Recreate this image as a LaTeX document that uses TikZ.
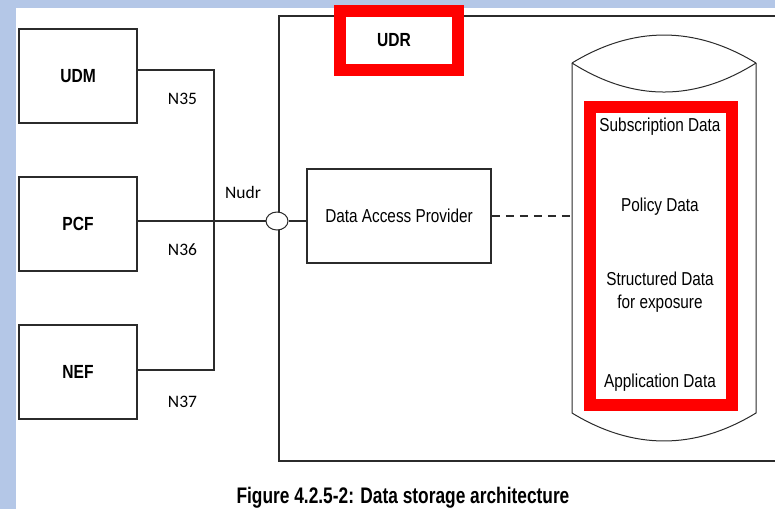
\documentclass[tikz,border=0pt]{standalone}
\usepackage{fontspec}
\setmainfont{Liberation Sans}
\newfontfamily\nar[FakeStretch=0.82]{Liberation Sans}
\newfontfamily\capfont[FakeStretch=0.77]{Liberation Sans}
\newfontfamily\ifont{Carlito}
\usetikzlibrary{shapes.geometric}
\definecolor{bgblue}{HTML}{B4C7E7}
\definecolor{udrred}{HTML}{FF0000}
\definecolor{ln}{HTML}{2B2B2B}
\begin{document}
\begin{tikzpicture}[x=1pt,y=-1pt,
  nfbox/.style={draw=ln, line width=1.5pt, minimum width=118pt, minimum height=94pt, inner sep=0pt, font=\nar\bfseries\fontsize{19}{22}\selectfont},
  lbl/.style={anchor=base, inner sep=0pt, font=\nar\fontsize{18.7}{22}\selectfont},
  ilbl/.style={anchor=base, inner sep=0pt, font=\ifont\fontsize{17.5}{20}\selectfont},
  wire/.style={draw=ln, line width=1.6pt},
  thin/.style={draw=ln, line width=1pt},
  redframe/.style={draw=udrred, line width=12pt, fill=white}]
\useasboundingbox (0,0) rectangle (775,509);
\clip (0,0) rectangle (775,509);
% slide background
\fill[bgblue] (0,0) rectangle (775,509);
\fill[white] (16,8) rectangle (775,509);
% UDR enclosure
\draw[draw=ln, line width=1.6pt] (279,16) rectangle (800,461);
% UDR label frame
\path[redframe] (340,11) rectangle (458,70);
\node[inner sep=0pt, font=\nar\bfseries\fontsize{19}{22}\selectfont] (udr) at (394,40) {UDR};
% NF boxes
\node[nfbox] (udm) at (78,76) {UDM};
\node[nfbox] (pcf) at (78,224) {PCF};
\node[nfbox] (nef) at (78,372) {NEF};
% Data access provider
\node[draw=ln, line width=1.5pt, minimum width=184pt, minimum height=94pt, inner sep=0pt, font=\nar\fontsize{18.7}{22}\selectfont] (dap) at (399,216) {Data Access Provider};
% wires
\coordinate (busT) at (214,70);
\coordinate (busB) at (214,370);
\coordinate (cylL) at (572,216);
\draw[wire] ([yshift=6pt]udm.east) -- (busT) -- (busB) -- ([yshift=2pt]nef.east);
\node[ellipse, draw=ln, line width=1pt, fill=white, minimum width=22pt, minimum height=18pt, inner sep=0pt] (iface) at (277,221) {};
\draw[wire] ([yshift=3pt]pcf.east) -- (iface.west);
\draw[wire] (iface.east) -- (dap.west |- iface.east);
\draw[wire, dash pattern=on 8pt off 6pt] (dap.east) -- (cylL);
% interface labels
\node[ilbl] (n35) at (182.5,104) {N35};
\node[ilbl] (nudr) at (243,198) {Nudr};
\node[ilbl] (n36) at (182.5,255) {N36};
\node[ilbl] (n37) at (182.5,407) {N37};
% database cylinder
\draw[thin] (572,63) .. controls (633.3,25.7) and (694.7,25.7) .. (756,63);
\draw[thin] (572,63) .. controls (633.3,101.7) and (694.7,101.7) .. (756,63);
\draw[thin] (572,63) -- (572,413) .. controls (633.3,450.3) and (694.7,450.3) .. (756,413) -- (756,63);
% data red frame
\path[redframe] (590,106.5) rectangle (732,405);
\node[lbl] (sub) at (660,131) {Subscription Data};
\node[lbl] (pol) at (660,211) {Policy Data};
\node[lbl] (str1) at (660,285) {Structured Data};
\node[lbl] (str2) at (660,308) {for exposure};
\node[lbl] (app) at (660,387) {Application Data};
% caption
\node[anchor=base, inner sep=0pt, font=\capfont\bfseries\fontsize{22.5}{26}\selectfont] (cap) at (403,503) {Figure 4.2.5-2: Data storage architecture};
\end{tikzpicture}
\end{document}
